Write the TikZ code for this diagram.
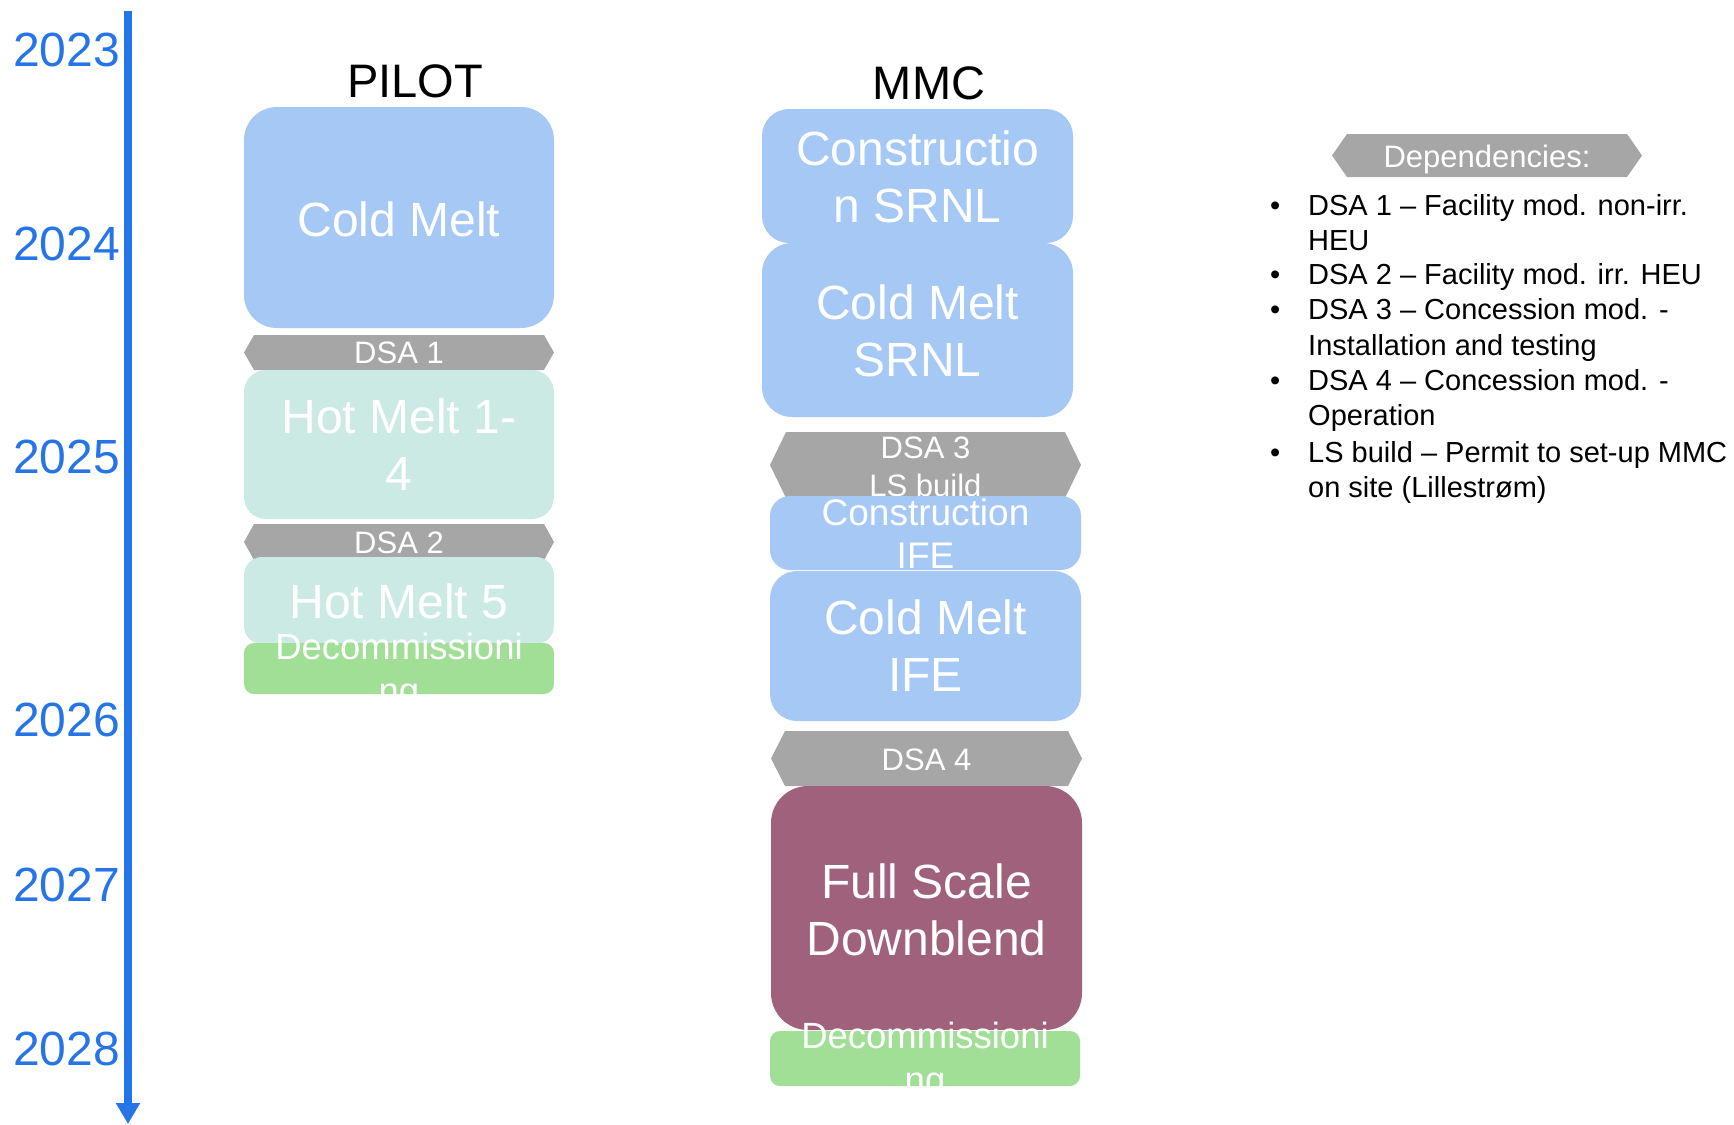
\documentclass[tikz,border=0pt]{standalone}
\usepackage{fontspec}
\setmainfont{Liberation Sans}
\usetikzlibrary{arrows.meta}
\definecolor{axisblue}{RGB}{38,117,232}
\definecolor{boxblue}{RGB}{166,200,245}
\definecolor{boxteal}{RGB}{204,234,228}
\definecolor{boxgreen}{RGB}{160,223,149}
\definecolor{dsagray}{RGB}{166,166,166}
\definecolor{boxmaroon}{RGB}{160,97,125}
\newcommand\fs[2]{\fontsize{#1}{#2}\selectfont}
\newcommand\hexfill[5]{%
  \fill[dsagray] (#1,{(#2+#4)/2}) -- ({#1+#5},#2) -- ({#3-#5},#2) -- (#3,{(#2+#4)/2})
    -- ({#3-#5},#4) -- ({#1+#5},#4) -- cycle;}
\tikzset{
  year/.style={anchor=east, text=axisblue, font=\fs{48}{57}, inner sep=0pt},
  head/.style={text=black, font=\fs{47}{56}, inner sep=0pt},
  boxtxt/.style={text=white, align=center, inner sep=0pt, font=\fs{48}{57}},
  dsatxt/.style={text=white, align=center, inner sep=0pt, font=\fs{31}{38}},
  smalltxt/.style={text=white, align=center, inner sep=0pt, font=\fs{37}{43}},
  dectxt/.style={text=white, align=center, inner sep=0pt, font=\fs{36.5}{44}},
  deptxt/.style={anchor=base west, inner sep=0pt, font=\fs{29}{35}},
}
\begin{document}
\begin{tikzpicture}[x=1pt,y=-1pt]
\useasboundingbox (0,0) rectangle (1734,1124);
% axis
\coordinate (axtop) at (128,11);
\coordinate (axbot) at (128,1124);
\draw[axisblue, line width=8pt, -{Triangle[width=23pt,length=21pt]}] (axtop) -- (axbot);
\node[year] (y23) at (120,50) {2023};
\node[year] (y24) at (120,244) {2024};
\node[year] (y25) at (120,457) {2025};
\node[year] (y26) at (120,720) {2026};
\node[year] (y27) at (120,885) {2027};
\node[year] (y28) at (120,1049) {2028};
% headings
\node[head] (pilot) at (415,81) {PILOT};
\node[head] (mmc) at (929,83) {MMC};
% ---------- PILOT column
\fill[boxblue, rounded corners=33pt] (244,107) rectangle (554,328);
\node[boxtxt] (pcm) at (399,219) {Cold Melt};
\hexfill{244}{335}{554}{370}{10}
\node[dsatxt] (dsa1) at (399,353) {DSA 1};
\fill[boxteal, rounded corners=22pt] (244,370) rectangle (554,519);
\node[boxtxt] (hm14) at (399,445) {Hot Melt 1-\\4};
\hexfill{244}{524}{554}{560}{10}
\node[dsatxt] (dsa2) at (399,543) {DSA 2};
\fill[boxteal, rounded corners=18pt] (244,557) rectangle (554,644);
\node[boxtxt] (hm5) at (399,601) {Hot Melt 5};
\fill[boxgreen, rounded corners=10pt] (244,643) rectangle (554,694);
\begin{scope}
  \clip (200,600) rectangle (600,694);
  \node[dectxt] (pdec) at (399,672) {Decommissioni\\ng};
\end{scope}
% ---------- MMC column
\fill[boxblue, rounded corners=27pt] (762,109) rectangle (1073,243);
\node[boxtxt] (csrnl) at (917.5,177) {Constructio\\n SRNL};
\fill[boxblue, rounded corners=30pt] (762,243) rectangle (1073,417);
\node[boxtxt] (cmsrnl) at (917.5,331) {Cold Melt\\SRNL};
\hexfill{770}{432}{1081}{498}{16}
\node[dsatxt] (dsa3) at (925.5,467) {DSA 3\\LS build};
\fill[boxblue, rounded corners=20pt] (770,496) rectangle (1081,570);
\node[smalltxt] (cife) at (925.5,534) {Construction\\IFE};
\fill[boxblue, rounded corners=27pt] (770,571) rectangle (1081,721);
\node[boxtxt] (cmife) at (925.5,646) {Cold Melt\\IFE};
\hexfill{771}{731}{1082}{786}{14}
\node[dsatxt] (dsa4) at (926.5,760) {DSA 4};
\fill[boxmaroon, rounded corners=37pt] (771,786) rectangle (1082,1030);
\node[boxtxt] (fsd) at (926.5,910) {Full Scale\\Downblend};
\fill[boxgreen, rounded corners=10pt] (770,1031) rectangle (1080,1086);
\begin{scope}
  \clip (700,990) rectangle (1120,1086);
  \node[dectxt] (mdec) at (925,1061) {Decommissioni\\ng};
\end{scope}
% ---------- Dependencies
\hexfill{1332}{134}{1642}{177}{15}
\node[dsatxt] (dep) at (1487,159) {Dependencies:};
\node[deptxt] (b1) at (1270,215) {•};
\node[deptxt] (l1) at (1308,215) {DSA 1 – Facility mod. non-irr.};
\node[deptxt] (l1b) at (1308,250) {HEU};
\node[deptxt] (b2) at (1270,284) {•};
\node[deptxt] (l2) at (1308,284) {DSA 2 – Facility mod. irr. HEU};
\node[deptxt] (b3) at (1270,319) {•};
\node[deptxt] (l3) at (1308,319) {DSA 3 – Concession mod. -};
\node[deptxt] (l3b) at (1308,355) {Installation and testing};
\node[deptxt] (b4) at (1270,390) {•};
\node[deptxt] (l4) at (1308,390) {DSA 4 – Concession mod. -};
\node[deptxt] (l4b) at (1308,425) {Operation};
\node[deptxt] (b5) at (1270,462) {•};
\node[deptxt] (l5) at (1308,462) {LS build – Permit to set-up MMC};
\node[deptxt] (l5b) at (1308,497) {on site (Lillestrøm)};
\end{tikzpicture}
\end{document}
